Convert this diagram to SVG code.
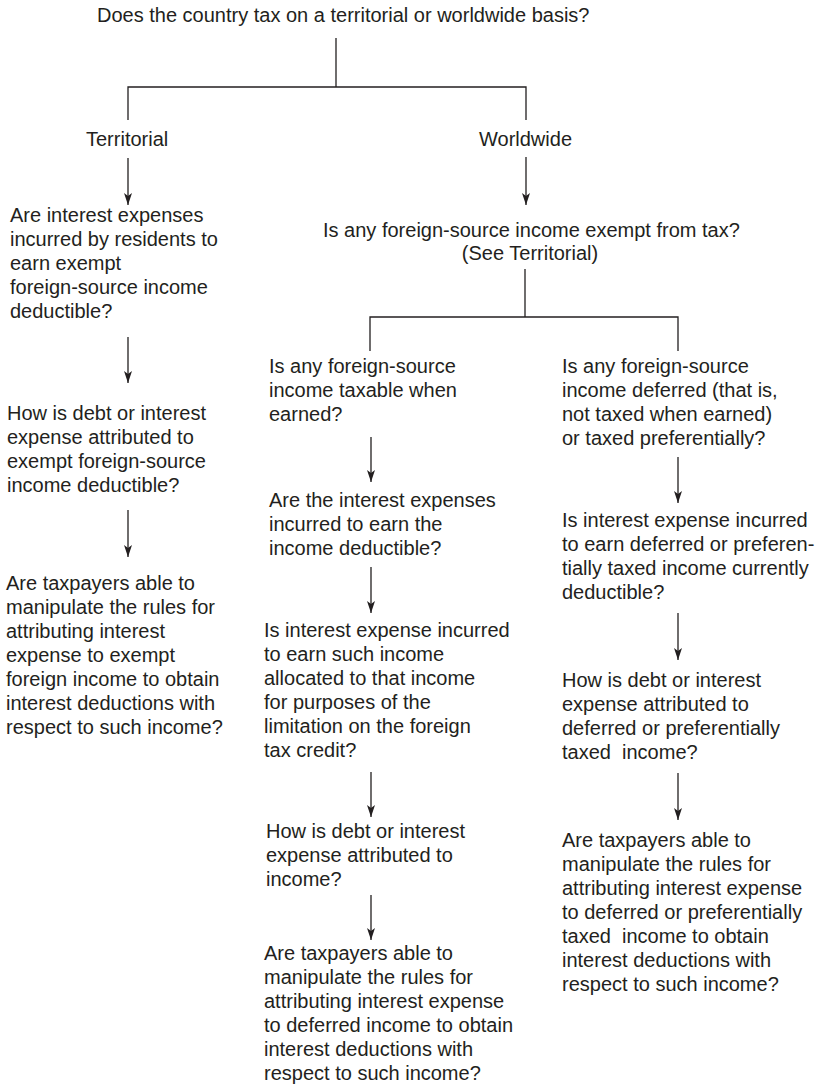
<svg xmlns="http://www.w3.org/2000/svg" width="819" height="1084" viewBox="0 0 819 1084">
<style>
text{font-family:"Liberation Sans",Arial,sans-serif;font-size:20px;fill:#231f20;white-space:pre}
.c{fill:none;stroke:#231f20;stroke-width:1.3}
</style>
<defs>
<marker id="ah" viewBox="0 0 12 8" refX="12" refY="4" markerWidth="12" markerHeight="8" markerUnits="userSpaceOnUse" orient="auto">
<path d="M0,0 L12,4 L0,8 L3,4 z" fill="#231f20"/>
</marker>
</defs>
<rect width="819" height="1084" fill="#fff"/>
<g id="connectors">
<line class="c" x1="336" y1="38" x2="336" y2="87"/>
<polyline class="c" points="128,120 128,87 526,87 526,120"/>
<line class="c" x1="128" y1="158" x2="128" y2="205" marker-end="url(#ah)"/>
<line class="c" x1="526" y1="157" x2="526" y2="205" marker-end="url(#ah)"/>
<line class="c" x1="525" y1="269" x2="525" y2="317"/>
<polyline class="c" points="370,351 370,317 678,317 678,351"/>
<line class="c" x1="128" y1="337" x2="128" y2="383" marker-end="url(#ah)"/>
<line class="c" x1="128" y1="510" x2="128" y2="557" marker-end="url(#ah)"/>
<line class="c" x1="371" y1="437" x2="371" y2="482" marker-end="url(#ah)"/>
<line class="c" x1="371" y1="567" x2="371" y2="613" marker-end="url(#ah)"/>
<line class="c" x1="371" y1="772" x2="371" y2="817" marker-end="url(#ah)"/>
<line class="c" x1="371" y1="895" x2="371" y2="940" marker-end="url(#ah)"/>
<line class="c" x1="678" y1="457" x2="678" y2="503" marker-end="url(#ah)"/>
<line class="c" x1="678" y1="613" x2="678" y2="660" marker-end="url(#ah)"/>
<line class="c" x1="678" y1="773" x2="678" y2="820" marker-end="url(#ah)"/>
</g>
<g id="root"><text x="97" y="22">Does the country tax on a territorial or worldwide basis?</text></g>
<g id="territorial"><text x="86" y="146">Territorial</text></g>
<g id="worldwide"><text x="479" y="146">Worldwide</text></g>
<g id="exempt"><text x="323" y="237">Is any foreign-source income exempt from tax?</text><text x="530" y="260" text-anchor="middle">(See Territorial)</text></g>
<g id="t1"><text x="10" y="222">Are interest expenses</text><text x="10" y="246">incurred by residents to</text><text x="10" y="270">earn exempt</text><text x="10" y="294">foreign-source income</text><text x="10" y="318">deductible?</text></g>
<g id="t2"><text x="7" y="420">How is debt or interest</text><text x="7" y="444">expense attributed to</text><text x="7" y="468">exempt foreign-source</text><text x="7" y="492">income deductible?</text></g>
<g id="t3"><text x="6" y="590">Are taxpayers able to</text><text x="6" y="614">manipulate the rules for</text><text x="6" y="638">attributing interest</text><text x="6" y="662">expense to exempt</text><text x="6" y="686">foreign income to obtain</text><text x="6" y="710">interest deductions with</text><text x="6" y="734">respect to such income?</text></g>
<g id="m1"><text x="269" y="373">Is any foreign-source</text><text x="269" y="397">income taxable when</text><text x="269" y="421">earned?</text></g>
<g id="m2"><text x="269" y="507">Are the interest expenses</text><text x="269" y="531">incurred to earn the</text><text x="269" y="555">income deductible?</text></g>
<g id="m3"><text x="264" y="637">Is interest expense incurred</text><text x="264" y="661">to earn such income</text><text x="264" y="685">allocated to that income</text><text x="264" y="709">for purposes of the</text><text x="264" y="733">limitation on the foreign</text><text x="264" y="757">tax credit?</text></g>
<g id="m4"><text x="266" y="838">How is debt or interest</text><text x="266" y="862">expense attributed to</text><text x="266" y="886">income?</text></g>
<g id="m5"><text x="264" y="960">Are taxpayers able to</text><text x="264" y="984">manipulate the rules for</text><text x="264" y="1008">attributing interest expense</text><text x="264" y="1032">to deferred income to obtain</text><text x="264" y="1056">interest deductions with</text><text x="264" y="1080">respect to such income?</text></g>
<g id="r1"><text x="562" y="373">Is any foreign-source</text><text x="562" y="397">income deferred (that is,</text><text x="562" y="421">not taxed when earned)</text><text x="562" y="445">or taxed preferentially?</text></g>
<g id="r2"><text x="562" y="527">Is interest expense incurred</text><text x="562" y="551">to earn deferred or preferen-</text><text x="562" y="575">tially taxed income currently</text><text x="562" y="599">deductible?</text></g>
<g id="r3"><text x="562" y="687">How is debt or interest</text><text x="562" y="711">expense attributed to</text><text x="562" y="735">deferred or preferentially</text><text x="562" y="759">taxed  income?</text></g>
<g id="r4"><text x="562" y="847">Are taxpayers able to</text><text x="562" y="871">manipulate the rules for</text><text x="562" y="895">attributing interest expense</text><text x="562" y="919">to deferred or preferentially</text><text x="562" y="943">taxed  income to obtain</text><text x="562" y="967">interest deductions with</text><text x="562" y="991">respect to such income?</text></g>
</svg>
